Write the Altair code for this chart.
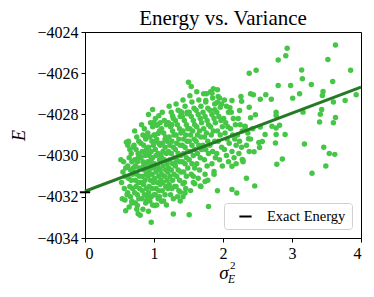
import altair as alt
import pandas as pd

# ---- data ----
# dense cluster (sigma_E^2, E)
cluster = [
    (0.52,-4030.2),(0.56,-4030.3),(0.55,-4030.8),(0.58,-4031.0),(0.53,-4031.3),(0.57,-4031.6),(0.54,-4032.1),(0.58,-4032.15),(0.60,-4029.35),(0.62,-4029.5),(0.59,-4030.6),(0.61,-4031.9),
    (0.63,-4029.3),(0.65,-4029.7),(0.67,-4029.9),(0.64,-4030.1),(0.68,-4030.3),(0.62,-4030.5),(0.66,-4030.7),(0.69,-4030.9),(0.63,-4031.1),(0.67,-4031.2),(0.65,-4031.5),(0.69,-4031.6),(0.62,-4031.8),(0.66,-4032.0),(0.68,-4032.3),(0.64,-4032.5),(0.70,-4029.6),(0.70,-4030.6),
    (0.72,-4028.8),(0.75,-4029.1),(0.78,-4029.3),(0.71,-4029.5),(0.74,-4029.7),(0.77,-4029.9),(0.79,-4030.0),(0.72,-4030.2),(0.76,-4030.3),(0.73,-4030.5),(0.78,-4030.6),(0.71,-4030.8),(0.75,-4030.9),(0.79,-4031.0),(0.73,-4031.2),(0.77,-4031.3),(0.74,-4031.5),(0.79,-4031.6),(0.72,-4031.8),(0.76,-4031.9),(0.78,-4032.1),(0.73,-4032.3),(0.75,-4032.6),(0.80,-4032.9),(0.77,-4030.1),
    (0.82,-4028.5),(0.86,-4028.7),(0.84,-4029.0),(0.88,-4029.2),(0.81,-4029.4),(0.85,-4029.5),(0.89,-4029.7),(0.83,-4029.8),(0.87,-4030.0),(0.81,-4030.1),(0.84,-4030.3),(0.88,-4030.4),(0.82,-4030.6),(0.86,-4030.7),(0.89,-4030.9),(0.83,-4031.0),(0.87,-4031.2),(0.81,-4031.3),(0.85,-4031.4),(0.89,-4031.6),(0.83,-4031.7),(0.86,-4031.9),(0.82,-4032.1),(0.88,-4032.3),(0.84,-4032.6),(0.90,-4032.0),(0.85,-4030.5),(0.90,-4029.9),
    (0.92,-4028.0),(0.95,-4028.4),(0.98,-4028.6),(0.91,-4028.9),(0.94,-4029.1),(0.97,-4029.3),(0.99,-4029.5),(0.92,-4029.6),(0.96,-4029.8),(0.93,-4030.0),(0.98,-4030.1),(0.91,-4030.3),(0.95,-4030.4),(0.99,-4030.6),(0.93,-4030.7),(0.97,-4030.9),(0.91,-4031.0),(0.95,-4031.2),(0.99,-4031.3),(0.93,-4031.5),(0.97,-4031.6),(0.92,-4031.8),(0.96,-4032.0),(0.94,-4032.2),(0.98,-4032.4),(0.92,-4032.7),(0.96,-4030.2),(1.00,-4029.0),(0.94,-4030.9),(1.00,-4031.9),
    (1.02,-4028.2),(1.05,-4028.5),(1.08,-4028.8),(1.01,-4029.0),(1.04,-4029.2),(1.07,-4029.4),(1.09,-4029.5),(1.02,-4029.7),(1.06,-4029.9),(1.03,-4030.0),(1.08,-4030.2),(1.01,-4030.4),(1.05,-4030.5),(1.09,-4030.7),(1.03,-4030.8),(1.07,-4031.0),(1.01,-4031.1),(1.05,-4031.3),(1.09,-4031.4),(1.03,-4031.6),(1.07,-4031.7),(1.02,-4031.9),(1.06,-4032.1),(1.04,-4032.4),(1.08,-4032.0),(1.10,-4030.0),(1.06,-4030.6),(1.10,-4031.2),(1.03,-4029.3),(1.09,-4028.4),
    (1.12,-4027.9),(1.15,-4028.3),(1.18,-4028.5),(1.11,-4028.7),(1.14,-4028.9),(1.17,-4029.1),(1.19,-4029.3),(1.12,-4029.4),(1.16,-4029.6),(1.13,-4029.8),(1.18,-4029.9),(1.11,-4030.1),(1.15,-4030.2),(1.19,-4030.4),(1.13,-4030.5),(1.17,-4030.7),(1.11,-4030.9),(1.15,-4031.0),(1.19,-4031.2),(1.13,-4031.3),(1.17,-4031.5),(1.12,-4031.7),(1.16,-4031.9),(1.14,-4032.2),(1.18,-4032.4),(1.20,-4030.8),(1.16,-4029.2),(1.20,-4031.6),
    (1.22,-4027.6),(1.25,-4027.9),(1.28,-4028.2),(1.21,-4028.4),(1.24,-4028.6),(1.27,-4028.8),(1.29,-4029.0),(1.22,-4029.1),(1.26,-4029.3),(1.23,-4029.5),(1.28,-4029.6),(1.21,-4029.8),(1.25,-4029.9),(1.29,-4030.1),(1.23,-4030.2),(1.27,-4030.4),(1.21,-4030.6),(1.25,-4030.7),(1.29,-4030.9),(1.23,-4031.0),(1.27,-4031.2),(1.22,-4031.4),(1.26,-4031.6),(1.24,-4031.9),(1.28,-4032.1),(1.30,-4030.4),(1.26,-4028.5),(1.30,-4031.5),
    (1.32,-4027.5),(1.35,-4027.8),(1.38,-4028.1),(1.31,-4028.3),(1.34,-4028.5),(1.37,-4028.7),(1.39,-4028.9),(1.32,-4029.0),(1.36,-4029.2),(1.33,-4029.4),(1.38,-4029.5),(1.31,-4029.7),(1.35,-4029.9),(1.39,-4030.0),(1.33,-4030.2),(1.37,-4030.3),(1.31,-4030.5),(1.35,-4030.7),(1.39,-4030.8),(1.33,-4031.0),(1.37,-4031.2),(1.32,-4031.5),(1.36,-4031.7),(1.34,-4032.0),(1.38,-4032.2),
    (1.42,-4027.3),(1.45,-4027.6),(1.48,-4027.9),(1.41,-4028.1),(1.44,-4028.3),(1.47,-4028.5),(1.49,-4028.7),(1.42,-4028.8),(1.46,-4029.0),(1.43,-4029.2),(1.48,-4029.3),(1.41,-4029.5),(1.45,-4029.6),(1.49,-4029.8),(1.43,-4029.9),(1.47,-4030.1),(1.41,-4030.3),(1.45,-4030.4),(1.49,-4030.6),(1.43,-4030.8),(1.47,-4031.0),(1.44,-4031.3),(1.46,-4031.6),(1.42,-4032.0),
    (1.52,-4027.1),(1.55,-4027.4),(1.58,-4027.7),(1.51,-4027.9),(1.54,-4028.1),(1.57,-4028.3),(1.59,-4028.5),(1.52,-4028.7),(1.56,-4028.8),(1.53,-4029.0),(1.58,-4029.2),(1.51,-4029.3),(1.55,-4029.5),(1.59,-4029.7),(1.53,-4029.8),(1.57,-4030.0),(1.51,-4030.2),(1.55,-4030.4),(1.59,-4030.6),(1.54,-4030.9),(1.57,-4031.3),(1.53,-4031.7),
    (1.62,-4026.9),(1.65,-4027.3),(1.68,-4027.6),(1.61,-4027.8),(1.64,-4028.0),(1.67,-4028.2),(1.69,-4028.4),(1.62,-4028.6),(1.66,-4028.8),(1.63,-4029.0),(1.68,-4029.1),(1.61,-4029.3),(1.65,-4029.5),(1.69,-4029.7),(1.63,-4029.9),(1.67,-4030.1),(1.62,-4030.4),(1.66,-4030.7),(1.64,-4031.1),(1.68,-4031.5),
    (1.72,-4027.0),(1.75,-4027.4),(1.78,-4027.7),(1.71,-4027.9),(1.74,-4028.1),(1.77,-4028.3),(1.79,-4028.5),(1.72,-4028.7),(1.76,-4028.9),(1.73,-4029.1),(1.78,-4029.3),(1.71,-4029.5),(1.75,-4029.7),(1.79,-4029.9),(1.73,-4030.2),(1.77,-4030.5),(1.74,-4030.9),(1.78,-4031.2),
    (1.82,-4026.9),(1.85,-4027.2),(1.88,-4027.5),(1.81,-4027.8),(1.84,-4028.0),(1.87,-4028.2),(1.89,-4028.4),(1.82,-4028.6),(1.86,-4028.8),(1.83,-4029.0),(1.88,-4029.3),(1.81,-4029.5),(1.85,-4029.8),(1.89,-4030.1),(1.84,-4030.4),(1.87,-4030.9),
    (1.92,-4026.8),(1.95,-4027.2),(1.98,-4027.5),(1.91,-4027.9),(1.94,-4028.1),(1.97,-4028.3),(1.99,-4028.6),(1.92,-4028.8),(1.96,-4029.0),(1.93,-4029.3),(1.98,-4029.6),(1.91,-4029.9),(1.95,-4030.2),(1.99,-4030.5),
    (2.02,-4027.3),(2.05,-4027.6),(2.08,-4027.9),(2.01,-4028.2),(2.04,-4028.4),(2.07,-4028.6),(2.03,-4028.9),(2.06,-4029.2),(2.09,-4029.4),(2.02,-4029.7),(2.05,-4030.0),(2.08,-4030.3),
    (2.12,-4027.9),(2.15,-4028.2),(2.18,-4028.5),(2.11,-4028.7),(2.14,-4029.0),(2.17,-4029.2),(2.19,-4029.5),(2.13,-4029.8),(2.16,-4030.1),(2.19,-4030.4),
    (2.22,-4028.2),(2.25,-4028.5),(2.28,-4028.8),(2.21,-4029.0),(2.24,-4029.3),(2.27,-4029.6),(2.23,-4029.9),(2.29,-4030.3),
    (2.32,-4028.6),(2.36,-4028.9),(2.40,-4029.2),(2.34,-4029.5),(2.38,-4029.8),(2.43,-4028.7),
]

# scattered points away from the cluster
scatter_outer = [
    (3.63,-4024.63),(3.52,-4025.34),(2.93,-4024.79),(2.91,-4025.15),(2.80,-4025.36),(2.48,-4025.86),(3.14,-4025.84),(3.85,-4025.86),
    (3.15,-4026.27),(3.59,-4026.40),(2.80,-4026.60),(2.98,-4026.60),(3.28,-4026.55),(2.44,-4027.05),(2.54,-4027.26),(2.62,-4027.05),
    (2.70,-4027.26),(3.01,-4027.21),(3.11,-4027.00),(3.45,-4026.89),(3.44,-4027.08),(3.60,-4027.40),(3.77,-4027.32),(3.93,-4027.05),
    (2.47,-4028.02),(2.77,-4027.89),(2.77,-4028.05),(3.16,-4027.89),(3.43,-4027.76),(3.41,-4027.99),(3.63,-4028.15),(3.60,-4028.40),
    (3.40,-4028.37),(2.71,-4028.57),(2.77,-4028.66),(2.82,-4028.53),(2.61,-4028.98),(2.77,-4028.98),(2.90,-4028.98),
    (2.52,-4029.36),(2.57,-4029.32),(2.76,-4029.39),(2.53,-4029.61),(2.45,-4029.81),(3.18,-4029.44),(3.46,-4029.60),(3.54,-4029.90),
    (3.62,-4029.94),(3.49,-4030.50),(3.29,-4030.86),(2.86,-4030.16),(2.78,-4030.42),(2.46,-4031.47),
    (2.13,-4030.52),(2.28,-4030.19),(2.34,-4031.10),(1.92,-4031.71),(2.13,-4031.64),(2.20,-4031.81),(1.79,-4032.47),(1.51,-4032.87),
    (1.42,-4031.37),(1.45,-4031.81),(1.59,-4031.37),(1.67,-4031.48),(1.74,-4031.26),(1.57,-4031.00),(1.87,-4030.77),(1.38,-4031.77),
    (0.59,-4032.68),(0.77,-4032.82),(0.96,-4033.24),(1.28,-4032.84),(0.68,-4032.22),(0.76,-4032.42),(1.01,-4032.42),(0.89,-4032.18),(1.11,-4032.22),
    (1.50,-4026.44),(1.54,-4026.65),(2.38,-4026.00),(2.40,-4027.00),(1.86,-4026.76),(1.76,-4027.00),(1.84,-4026.97),(1.75,-4027.32),
    (1.93,-4027.13),(1.92,-4027.41),(2.13,-4027.32),(2.26,-4027.13),(2.27,-4027.36),(1.96,-4027.65),(1.88,-4027.77),(2.10,-4027.68),
    (2.24,-4027.81),(2.38,-4027.65),(1.40,-4027.89),(1.48,-4027.97),
    (0.98,-4027.76),(1.07,-4028.07),(1.27,-4028.08),(1.38,-4027.86),(1.00,-4028.38),(1.04,-4028.53),(1.20,-4028.42),(0.63,-4029.34),
    (0.87,-4029.07),(1.06,-4028.93),
    (2.29,-4030.23),(2.37,-4029.18),(2.32,-4028.58),(2.40,-4028.16),(2.54,-4028.61),
]

# fitted line end points
fit_sigma2 = [0.0, 4.0]
fit_energy = [-4031.73, -4026.68]

# exact energy marker
exact_energy = -4031.78
exact_label = "Exact Energy"

x_ticks = [0, 1, 2, 3, 4]
y_ticks = [-4034, -4032, -4030, -4028, -4026, -4024]

# ---- tables ----
pts = pd.DataFrame(cluster + scatter_outer, columns=["s2", "E"])
fit = pd.DataFrame({"s2": fit_sigma2, "E": fit_energy})
exact = pd.DataFrame({"x0": [-0.075], "x1": [0.075], "E": [exact_energy], "lab": [exact_label]})

SERIF = "Liberation Serif"
W, H = 276, 206

xs = alt.Scale(domain=[0, 4], nice=False, zero=False)
ys = alt.Scale(domain=[-4034, -4024], nice=False, zero=False)

axis_common = dict(
    grid=False, domainColor="black", tickColor="black", tickSize=4, tickWidth=1,
    labelFont=SERIF, labelFontSize=16, labelColor="black", format="d",
)

points = alt.Chart(pts).mark_circle(size=30, color="#46c646", opacity=1).encode(
    x=alt.X("s2:Q", scale=xs, axis=alt.Axis(values=x_ticks, title=None, labelPadding=3, **axis_common)),
    y=alt.Y("E:Q", scale=ys, axis=alt.Axis(values=y_ticks, title="E", labelPadding=3,
                                           titleFont=SERIF, titleFontSize=18, titleFontWeight="normal",
                                           titleFontStyle="italic", titleColor="black", titlePadding=8,
                                           **axis_common)),
)

line = alt.Chart(fit).mark_line(color="#267a26", strokeWidth=3).encode(
    x=alt.X("s2:Q", scale=xs), y=alt.Y("E:Q", scale=ys)
)

marker = alt.Chart(exact).mark_rule(strokeWidth=2).encode(
    x=alt.X("x0:Q", scale=xs),
    x2="x1:Q",
    y=alt.Y("E:Q", scale=ys),
    color=alt.Color("lab:N", scale=alt.Scale(domain=[exact_label], range=["black"]),
                    legend=alt.Legend(title=None, orient="bottom-right", offset=9,
                                      fillColor="white", strokeColor="#d0d0d0", cornerRadius=3,
                                      padding=6, labelFont=SERIF, labelFontSize=14.5,
                                      labelColor="black", labelOffset=14, symbolOffset=8,
                                      symbolType="stroke", symbolStrokeWidth=2, symbolSize=150,
                                      symbolStrokeColor="black")),
)

sig = alt.Chart(pd.DataFrame({"t": ["σ"]})).mark_text(
    font=SERIF, fontSize=19, fontStyle="italic", color="black", align="center", baseline="alphabetic"
).encode(text="t:N", x=alt.value(139), y=alt.value(247))
sup = alt.Chart(pd.DataFrame({"t": ["2"]})).mark_text(
    font=SERIF, fontSize=11, color="black", align="left", baseline="alphabetic"
).encode(text="t:N", x=alt.value(145), y=alt.value(237))
sub = alt.Chart(pd.DataFrame({"t": ["E"]})).mark_text(
    font=SERIF, fontSize=11.5, fontStyle="italic", color="black", align="left", baseline="alphabetic"
).encode(text="t:N", x=alt.value(143), y=alt.value(251))

chart = alt.layer(points, line, marker, sig, sup, sub).properties(
    width=W, height=H,
    title=alt.TitleParams("Energy vs. Variance", font=SERIF, fontSize=21, fontWeight="normal",
                          color="black", anchor="middle", offset=-5),
    autosize=alt.AutoSizeParams(type="none"),
    padding={"left": 77, "top": 24, "right": 4, "bottom": 52},
).configure_view(stroke="black", strokeWidth=1)

chart.save("out.html", embed_options={"renderer": "svg", "actions": False})
